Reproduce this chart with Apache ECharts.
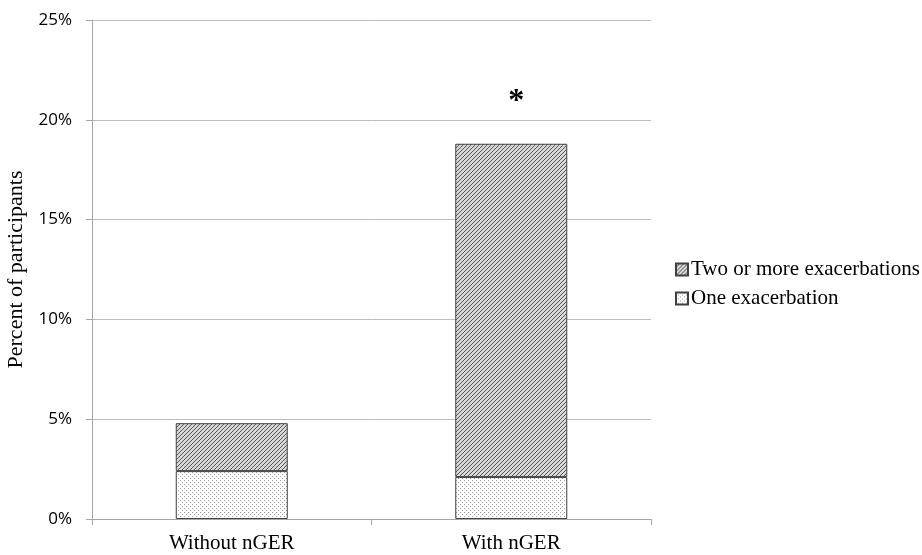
<!DOCTYPE html>
<html><head><meta charset="utf-8">
<script src="https://cdn.jsdelivr.net/npm/echarts@6/dist/echarts.min.js"></script>
<style>html,body{margin:0;padding:0;background:#fff}#c{width:922px;height:555px}</style>
</head><body><div id="c"></div>
<script>
const categories = ['Without nGER', 'With nGER'];
const oneExacerbation = [2.4, 2.1];
const twoOrMore = [2.4, 16.7];
const yTicks = [0, 5, 10, 15, 20, 25];
const seriesNames = ['One exacerbation', 'Two or more exacerbations'];
const significant = [false, true];

function hatch() {
  const c = document.createElement('canvas'); c.width = 4; c.height = 4;
  const g = c.getContext('2d');
  g.fillStyle = '#d8d8d8'; g.fillRect(0,0,4,4);
  g.fillStyle = '#555';
  for (let i = 0; i < 4; i++) { g.fillRect(i, 3 - i, 1, 1); }
  return c;
}
function dots() {
  const c = document.createElement('canvas'); c.width = 4; c.height = 4;
  const g = c.getContext('2d');
  g.fillStyle = '#fff'; g.fillRect(0,0,4,4);
  g.fillStyle = '#9a9a9a';
  g.fillRect(0,0,1,1); g.fillRect(2,2,1,1);
  return c;
}
const hatchFill = {image: hatch(), repeat: 'repeat'};
const dotFill = {image: dots(), repeat: 'repeat'};

const chart = echarts.init(document.getElementById('c'));
chart.setOption({
  animation: false,
  backgroundColor: '#fff',
  grid: {left: 92, right: 271, top: 20, bottom: 36, outerBoundsMode: 'none', containLabel: false},
  legend: {
    orient: 'vertical', left: 670, top: 254,
    data: [seriesNames[1], seriesNames[0]],
    icon: 'rect',
    itemWidth: 12, itemHeight: 12, itemGap: 8,
    textStyle: {fontFamily: 'Liberation Serif', fontSize: 21, color: '#000', padding: [0, 0, 0, -2]}
  },
  xAxis: {
    type: 'category', data: categories,
    axisLine: {lineStyle: {color: '#a6a6a6'}},
    axisTick: {show: true, length: 6, lineStyle: {color: '#a6a6a6'}},
    axisLabel: {fontFamily: 'Liberation Serif', fontSize: 21, color: '#000', margin: 14}
  },
  yAxis: {
    type: 'value', min: 0, max: 25, interval: 5,
    name: 'Percent of participants', nameLocation: 'middle', nameGap: 53,
    nameTextStyle: {fontFamily: 'Liberation Serif', fontSize: 22, color: '#000'},
    axisLine: {show: true, lineStyle: {color: '#a6a6a6'}},
    axisTick: {show: true, length: 6, lineStyle: {color: '#a6a6a6'}},
    splitLine: {lineStyle: {color: '#bdbdbd'}},
    axisLabel: {fontFamily: 'Open Sans', fontSize: 17, color: '#000', margin: 20,
      formatter: v => yTicks.includes(v) ? v + '%' : ''}
  },
  series: [
    {
      name: seriesNames[0], type: 'bar', stack: 'a', data: oneExacerbation,
      barWidth: 112,
      itemStyle: {color: dotFill, borderColor: '#404040', borderWidth: 1}
    },
    {
      name: seriesNames[1], type: 'bar', stack: 'a',
      data: twoOrMore.map((v, i) => significant[i]
        ? {value: v, label: {show: true, position: 'top', formatter: '*', distance: 26, offset: [5, 0],
            fontSize: 32, fontWeight: 'bold', fontFamily: 'Liberation Serif', color: '#000'}}
        : v),
      barWidth: 112,
      itemStyle: {color: hatchFill, borderColor: '#404040', borderWidth: 1}
    }
  ]
});
</script></body></html>
